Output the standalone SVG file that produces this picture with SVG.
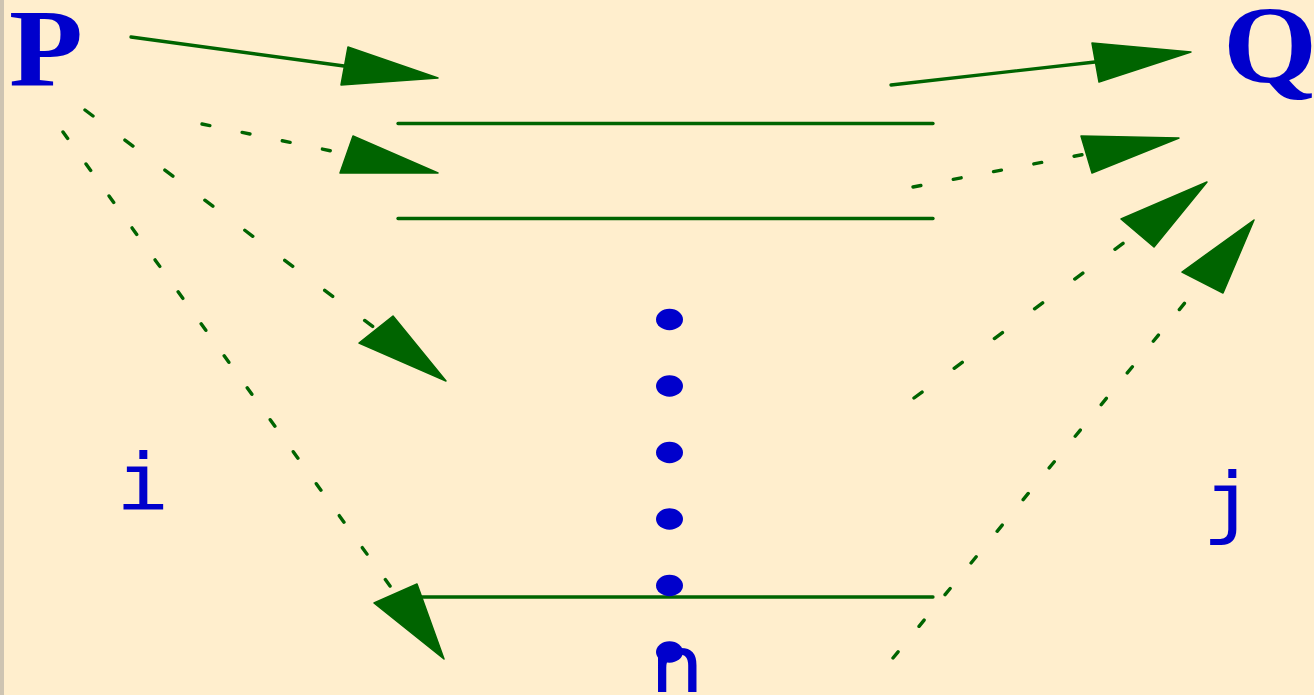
<svg xmlns="http://www.w3.org/2000/svg" width="1314" height="695" viewBox="0 0 1314 695">
<style>
.big{font-family:"Liberation Serif",serif;font-weight:bold;font-size:110px;fill:#0000CC}
.mono{font-family:"DejaVu Sans Mono",monospace;font-size:78px;fill:#0000CC}
.ln{stroke:#006400;stroke-width:3.3;fill:none;stroke-linecap:round}
.ds{stroke:#006400;stroke-width:3.4;fill:none;stroke-linecap:round}
.hd{fill:#006400;stroke:#006400;stroke-width:1.5;stroke-linejoin:round}
.dot{fill:#0000CC}
</style>
<rect x="0" y="0" width="1314" height="695" fill="#FFEECD"/>
<rect x="0" y="0" width="4" height="695" fill="#CEC4B2"/>
<g id="connectors">
  <line class="ln" x1="398" y1="123.5" x2="933" y2="123.5"/>
  <line class="ln" x1="398" y1="218.5" x2="933" y2="218.5"/>
  <line class="ln" x1="420" y1="597" x2="933" y2="597"/>
  <g id="a1"><line class="ln" x1="131" y1="37" x2="344" y2="66"/><polygon class="hd" points="438,78 348,47 341,85"/></g>
  <g id="a2"><line class="ds" stroke-dasharray="8 33" x1="202" y1="124" x2="346" y2="154"/><polygon class="hd" points="438,173 353,136 340,173"/></g>
  <g id="a3"><line class="ds" stroke-dasharray="10 40" x1="85" y1="110" x2="376" y2="329"/><polygon class="hd" points="446,381 393,316 359,343"/></g>
  <g id="a4"><line class="ds" stroke-dasharray="8 31.4" x1="63" y1="132" x2="395" y2="593"/><polygon class="hd" points="444,659 417,584 374,603"/></g>
  <g id="a5"><line class="ln" x1="891" y1="85" x2="1095" y2="62"/><polygon class="hd" points="1191,52 1092,43 1099,82"/></g>
  <g id="a6"><line class="ds" stroke-dasharray="8 33" x1="913" y1="187" x2="1086" y2="154"/><polygon class="hd" points="1179,138 1081,136 1092,173"/></g>
  <g id="a7"><line class="ds" stroke-dasharray="10 40" x1="914" y1="398" x2="1137" y2="233"/><polygon class="hd" points="1207,182 1121,219 1154,247"/></g>
  <g id="a8"><line class="ds" stroke-dasharray="8 33" x1="893" y1="658" x2="1202" y2="282"/><polygon class="hd" points="1254,220 1182,272 1223,293"/></g>
</g>
<g id="P" transform="translate(9,85) scale(1.1,1)"><text class="big" x="0" y="0">P</text></g>
<g id="Q" transform="translate(1223,82) scale(1.1,1)"><text class="big" x="0" y="0">Q</text></g>
<g id="i" transform="translate(142.5,510) scale(1.14,1)"><text class="mono" x="0" y="0" text-anchor="middle">i</text></g>
<g id="j" transform="translate(1229,529) scale(1.15,1)"><text class="mono" x="0" y="0" text-anchor="middle">j</text></g>
<g id="n" transform="translate(677,692) scale(1.18,1)"><text class="mono" x="0" y="0" text-anchor="middle">n</text></g>
<g id="dots">
  <ellipse class="dot" cx="669.5" cy="319.5" rx="13.5" ry="10.7"/>
  <ellipse class="dot" cx="669.5" cy="386" rx="13.5" ry="10.7"/>
  <ellipse class="dot" cx="669.5" cy="452.5" rx="13.5" ry="10.7"/>
  <ellipse class="dot" cx="669.5" cy="519" rx="13.5" ry="10.7"/>
  <ellipse class="dot" cx="669.5" cy="585.5" rx="13.5" ry="10.7"/>
  <ellipse class="dot" cx="669.5" cy="652" rx="13.5" ry="10.7"/>
</g>
</svg>
